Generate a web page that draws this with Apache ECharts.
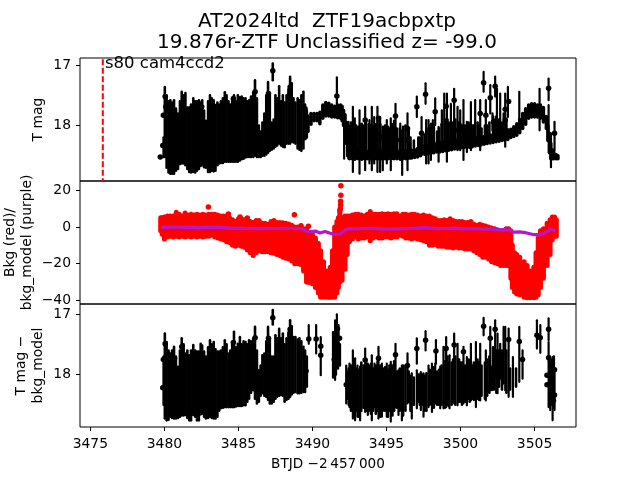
<!DOCTYPE html>
<html><head><meta charset="utf-8">
<style>html,body{margin:0;padding:0;background:#fff}#c{width:640px;height:480px}</style>
<script src="https://cdn.jsdelivr.net/npm/echarts@6/dist/echarts.min.js"></script>
</head><body><div id="c"></div>
<script>
const FONT='"DejaVu Sans"';
const xTicks=[3475,3480,3485,3490,3495,3500,3505];
const magTicks1=[17,18];
const bkgTicks=[-40,-20,0,20];
const magTicks3=[17,18];

// shared times of the dense early stretch
const tLeft=[
3479.95,3480.03,3480.15,3480.28,3480.4,3480.52,3480.65,3480.78,3480.92,3481.05,
3481.17,3481.3,3481.42,3481.55,3481.68,3481.8,3481.95,3482.08,3482.2,3482.33,
3482.45,3482.55,3482.68,3482.8,3482.95,3483.08,3483.2,3483.33,3483.45,3483.58,
3483.7,3483.82,3483.95,3484.08,3484.2,3484.33,3484.45,3484.58,3484.7,3484.83,
3484.96,3485.1,3485.22,3485.35,3485.48,3485.6,3485.72,3485.85,3486.0,3486.12,
3486.25,3486.38,3486.5,3486.62,3486.75,3486.88,3487.0,3487.12,3487.25,3487.32,
3487.38,3487.5,3487.62,3487.75,3487.88,3488.0,3488.12,3488.25,3488.38,3488.49,
3488.6,3488.72,3488.85,3489.0,3489.12,3489.25,3489.39,3489.5,3489.62];
const top1Left=[
18.2,17.36,17.5,17.6,17.58,17.62,17.58,17.72,17.8,17.6,
17.44,17.5,17.46,17.7,17.75,17.65,17.55,17.6,17.6,17.58,
17.62,17.58,17.75,17.92,17.6,17.5,17.55,17.58,17.66,17.62,
17.65,17.6,17.55,17.45,17.5,17.6,17.65,17.55,17.5,17.6,
17.5,17.53,17.52,17.55,17.55,17.6,17.58,17.52,17.45,17.25,
17.55,18.0,18.1,17.95,17.8,17.5,17.28,17.5,17.95,16.97,
17.9,17.5,17.55,17.35,17.6,17.5,17.62,17.5,17.4,17.19,
17.3,17.55,17.62,17.55,17.58,17.5,17.44,17.65,17.75];
const bot1Left=[
18.52,18.52,18.7,18.78,18.8,18.8,18.8,18.75,18.72,18.64,
18.63,18.63,18.66,18.72,18.77,18.78,18.77,18.78,18.75,18.72,
18.67,18.66,18.69,18.7,18.77,18.77,18.75,18.76,18.75,18.66,
18.63,18.62,18.62,18.6,18.6,18.6,18.6,18.6,18.6,18.6,
18.6,18.58,18.56,18.55,18.53,18.52,18.52,18.52,18.52,18.5,
18.52,18.52,18.52,18.5,18.5,18.48,18.45,18.42,18.4,17.25,
18.38,18.35,18.33,18.3,18.33,18.35,18.36,18.3,18.3,18.3,
18.27,18.28,18.3,18.38,18.4,18.42,18.38,18.22,18.2];

const tRight1=[
3491.65,3492.14,3492.43,3492.73,3492.86,3493.18,3493.34,3493.56,3493.85,3494.01,
3494.17,3494.39,3494.57,3494.75,3495.02,3495.29,3495.61,3495.93,3496.06,3496.42,
3496.6,3497.05,3497.37,3497.64,3497.68,3497.84,3498.0,3498.13,3498.29,3498.52,
3498.74,3498.9,3499.08,3499.35,3499.57,3499.8,3499.98,3500.2,3500.43,3500.7,
3500.99,3501.33,3501.56,3501.71,3502.01,3502.16,3502.34,3502.46,3502.68,3502.91,
3503.02,3503.2,3503.97,3505.34,3505.95,3505.95,3506.11,3506.35];
const top1Right=[
17.2,17.86,17.94,17.69,17.88,17.75,17.97,17.69,17.91,17.69,
17.86,17.69,17.86,18.08,17.91,17.88,17.64,17.97,18.08,17.8,
18.3,17.52,17.86,17.3,17.91,17.91,17.97,17.91,17.55,18.02,
17.75,17.47,17.47,17.64,17.39,17.69,17.75,17.58,17.94,17.61,
17.58,17.58,17.11,17.58,17.33,17.8,17.19,17.39,17.47,17.8,
17.47,17.36,17.44,17.39,17.22,17.66,18.13,17.94];
const bot1Right=[
17.72,18.55,18.55,18.77,18.57,18.8,18.57,18.74,18.63,18.74,
18.63,18.77,18.77,18.74,18.63,18.74,18.52,18.57,18.82,18.74,
18.55,17.86,18.3,17.64,18.63,18.63,18.57,18.46,17.99,18.6,
18.41,18.3,18.6,18.3,18.35,18.41,18.41,18.57,18.44,18.41,
18.3,18.41,17.44,18.19,17.8,18.08,17.52,18.19,18.24,18.24,
18.35,17.86,18.02,18.08,17.58,18.13,18.69,18.41];

// shorter error bars packed between the long ones
const tFill1=[
3492.35,3492.45,3492.6,3492.8,3492.95,3493.1,3493.3,3493.45,3493.62,3493.8,
3493.95,3494.1,3494.28,3494.4,3494.58,3494.75,3494.9,3495.1,3495.2,3495.4,
3495.52,3495.7,3495.9,3496.12,3496.28,3496.5,3496.62,3496.85,3497.15,3497.25,
3497.42,3497.58,3497.7,3497.92,3498.15,3498.2,3498.42,3498.55,3498.72,3498.95,
3499.12,3499.2,3499.4,3499.5,3499.65,3499.9,3500.0,3500.1,3500.3,3500.55,
3500.62,3500.8,3500.9,3501.15,3501.25,3501.42,3501.65,3501.8,3501.95,3502.2,
3502.25,3502.42,3502.6,3502.8,3503.1,3503.35,3503.75];
const topFill1=[
18.05,18.0,17.95,17.95,18.0,18.02,17.98,18.0,17.92,17.98,
18.0,18.02,17.98,17.9,17.98,18.02,18.0,18.02,18.05,17.98,
17.92,18.05,18.05,18.02,18.0,18.05,18.2,18.25,18.2,18.2,
18.15,18.15,18.05,18.0,18.02,18.0,18.1,18.05,17.98,17.9,
17.9,17.95,18.0,17.95,17.9,17.95,17.98,18.0,18.0,17.95,
18.0,18.0,18.0,17.95,18.0,18.05,18.0,18.0,17.95,17.85,
17.9,17.85,17.9,17.95,17.9,18.1,18.05];
const botFill1=[
18.5,18.52,18.55,18.55,18.54,18.55,18.54,18.55,18.55,18.54,
18.55,18.54,18.55,18.55,18.55,18.54,18.55,18.55,18.54,18.55,
18.54,18.55,18.55,18.55,18.54,18.54,18.53,18.52,18.5,18.5,
18.48,18.47,18.46,18.45,18.44,18.44,18.42,18.42,18.41,18.4,
18.4,18.39,18.38,18.38,18.37,18.36,18.36,18.36,18.34,18.33,
18.33,18.32,18.32,18.3,18.3,18.29,18.28,18.27,18.27,18.25,
18.25,18.24,18.23,18.22,18.2,18.18,18.14];

const tBand=[
3489.5,3489.7,3489.9,3490.1,3490.3,3490.5,3490.7,3490.9,3491.1,3491.3,
3491.5,3491.7,3491.9,3492.0,3492.1,3492.2,3492.3,3492.4,3492.5,3492.7,
3492.9,3493.1,3493.3,3493.5,3493.7,3493.9,3494.1,3494.3,3494.5,3494.7,
3494.9,3495.1,3495.3,3495.5,3495.7,3495.9,3496.1,3496.3,3496.5,3496.7,
3496.9,3497.1,3497.3,3497.6,3497.8,3498.0,3498.2,3498.4,3498.6,3498.8,
3499.0,3499.2,3499.4,3499.6,3499.8,3500.0,3500.2,3500.4,3500.6,3500.8,
3501.0,3501.2,3501.4,3501.6,3501.8,3502.0,3502.2,3502.4,3502.6,3502.8,
3503.0,3503.2,3503.4,3503.6,3503.8,3504.0,3504.2,3504.4,3504.6,3504.8,
3505.0,3505.2,3505.4,3505.6,3505.8,3505.9,3506.0,3506.1,3506.2,3506.3,
3506.45,3506.58];
const topBand=[
17.86,17.84,17.80,17.80,17.80,17.78,17.66,17.62,17.63,17.66,
17.68,17.66,17.66,17.68,17.75,17.82,17.95,18.10,18.30,18.40,
18.42,18.42,18.43,18.42,18.43,18.42,18.43,18.42,18.43,18.42,
18.43,18.42,18.43,18.42,18.43,18.42,18.42,18.42,18.41,18.41,
18.40,18.38,18.36,18.33,18.32,18.31,18.30,18.29,18.28,18.27,
18.26,18.26,18.25,18.25,18.24,18.24,18.23,18.22,18.22,18.21,
18.20,18.19,18.19,18.18,18.17,18.16,18.15,18.14,18.12,18.10,
18.08,18.07,18.06,18.02,17.97,17.90,17.80,17.72,17.66,17.64,
17.64,17.66,17.66,17.70,17.85,18.00,18.13,18.30,18.40,18.44,
18.48,18.50];
const botBand=[
18.22,18.10,17.98,17.92,17.92,17.97,17.88,17.84,17.84,17.86,
17.86,17.87,17.88,17.92,18.00,18.10,18.30,18.50,18.55,18.55,
18.55,18.55,18.55,18.55,18.55,18.55,18.55,18.55,18.55,18.55,
18.55,18.55,18.55,18.55,18.55,18.55,18.55,18.55,18.54,18.54,
18.53,18.52,18.50,18.48,18.47,18.46,18.45,18.44,18.44,18.43,
18.42,18.41,18.40,18.39,18.38,18.37,18.37,18.36,18.36,18.35,
18.34,18.33,18.32,18.31,18.30,18.29,18.28,18.27,18.26,18.25,
18.24,18.23,18.20,18.18,18.16,18.12,18.05,17.98,17.88,17.86,
17.86,17.86,17.88,17.94,18.05,18.25,18.45,18.55,18.55,18.55,
18.55,18.55];

const tDots1=[
3479.72,3479.89,3479.93,3480.05,3480.09,3480.27,3480.32,3480.68,3481.17,3481.73,
3482.52,3483.2,3484.66,3486.13,3487.03,3487.32,3488.49,3488.49,3489.5,3491.65,
3493.34,3493.56,3494.01,3494.46,3494.8,3495.14,3495.61,3495.52,3495.93,3496.42,
3496.42,3497.05,3497.37,3497.64,3498.29,3499.03,3499.57,3499.8,3501.56,3502.01,
3502.34,3503.02,3503.02,3503.25,3505.95,3506.35,3501.33,3501.71,3502.23];
const magDots1=[
18.52,18.33,17.83,17.52,17.69,17.69,17.84,17.76,17.64,17.72,
17.69,17.61,17.55,17.44,17.47,17.09,17.36,17.47,17.72,17.51,
18.27,17.91,18.1,17.88,18.19,18.27,17.84,18.13,18.24,18.05,
18.24,17.69,18.13,17.48,17.77,17.68,17.58,18.08,17.29,17.54,
17.35,17.73,17.91,17.6,17.38,18.13,17.8,17.83,17.94];

const tMarker=[3475.84,3475.84];
const magMarker=[16.9,18.92];

// background (red) span per time step
const tBkg=[
3479.75,3479.85,3480.0,3480.2,3480.4,3480.6,3480.8,3481.0,3481.2,3481.4,
3481.6,3481.8,3482.0,3482.2,3482.4,3482.6,3482.8,3483.0,3483.2,3483.4,
3483.6,3483.8,3484.0,3484.2,3484.4,3484.6,3484.8,3485.0,3485.2,3485.4,
3485.6,3485.8,3486.0,3486.2,3486.4,3486.6,3486.8,3487.0,3487.2,3487.4,
3487.6,3487.8,3488.0,3488.2,3488.4,3488.6,3488.8,3489.0,3489.2,3489.4,
3489.6,3489.8,3490.0,3490.2,3490.4,3490.55,3490.75,3490.95,3491.1,3491.2,
3491.35,3491.5,3491.65,3491.75,3491.85,3492.0,3492.2,3492.35,3492.5,3492.7,
3492.9,3493.1,3493.3,3493.5,3493.7,3493.9,3494.1,3494.3,3494.5,3494.7,
3494.9,3495.1,3495.3,3495.5,3495.7,3495.9,3496.1,3496.3,3496.5,3496.7,
3496.9,3497.1,3497.3,3497.5,3497.7,3497.9,3498.1,3498.3,3498.5,3498.7,
3498.9,3499.1,3499.3,3499.5,3499.7,3499.9,3500.1,3500.3,3500.5,3500.7,
3500.9,3501.1,3501.3,3501.5,3501.7,3501.9,3502.1,3502.3,3502.5,3502.7,
3502.9,3503.1,3503.25,3503.4,3503.5,3503.65,3503.8,3504.0,3504.3,3504.5,
3504.7,3504.95,3505.1,3505.25,3505.4,3505.6,3505.85,3506.05,3506.2,3506.35,
3506.47];
const bkgHigh=[
5,5,5.5,6,6,6,8,7,6,7.7,
6.5,7,6.5,7,6.5,7,6.5,7,7,7,
6.5,6,6,6,5,4,3,4.5,4.5,4,
4.5,3,2.5,3.5,3.5,2,2,1.5,3,3.5,
2.5,2.5,2.3,2,1.7,1,0,0,-0.1,-1,
-1,-3,-4,-6,-9,-13,-19,-24,-25,-22,
-13,0,3,5,8,5,6,6,6,6.5,
7,7,6.5,6,7,8.5,7,7,7,7.2,
7,7.2,7,7.2,7.2,6,7,7,6.5,7,
7,6.5,6,6.5,6,6,5,4.5,3.5,3.5,
4,3.5,4.5,3.5,3,3,3,2.5,2.5,3,
1.5,1,1.5,1,0.5,0,-0.5,-1,-1.5,-2,
-2,-1.5,-1,-2,-10,-14,-15,-16.5,-19,-21,
-24,-22,-14,-6,-2,-1,2,4,5.5,5.5,
4];
const bkgLow=[
-2,-4,-6.5,-5.5,-5,-5.5,-5,-5.5,-5,-5.5,
-5,-5.5,-5,-5.5,-5,-5.5,-5,-5,-4.5,-5.5,
-6,-6.5,-7,-8,-8.5,-10,-10.5,-10,-10.5,-11,
-12.5,-14,-15.5,-14,-13,-13.5,-13.5,-13.5,-14,-14.3,
-15,-15.5,-16.5,-17,-17.4,-18.5,-20,-20.1,-20.5,-24,
-30,-30.1,-31,-33,-36,-38.3,-38.3,-38.3,-38.3,-38.3,
-38.3,-38.3,-36,-33,-30,-29,-23,-15,-8,-6.5,
-5.5,-6.5,-6,-6,-5.5,-7.5,-6,-5.5,-6,-6,
-5.5,-5.5,-6,-5.5,-5.5,-4.5,-5,-6,-6,-6.5,
-6,-6.5,-7,-7.5,-8,-10,-10,-9.5,-10.5,-10.5,
-10.5,-11,-11,-11.5,-11,-11.5,-11.5,-12,-12,-12,
-13,-14,-15,-16.5,-16.5,-17.5,-19,-19.5,-20,-21,
-21,-21,-21,-28,-33,-35.5,-36.5,-37,-38.3,-38.6,
-38.6,-38.6,-38.3,-37,-33,-28,-21,-15,-7,-5,
-5];
const tBkgDots=[3491.92,3491.92,3491.9,3491.9,3491.88,3491.85,3482.97,3484.32,3485.11,3485.6,3488.78,3489.73,3489.23,3489.73,3503.09];
const bkgDots=[22.5,17.3,14,12,10,9,10.9,7.1,5.5,4.9,6.7,0.4,0.7,-30,-1.1];

const tModel=[
3479.8,3480.3,3480.8,3481.3,3481.8,3482.3,3482.8,3483.3,3483.8,3484.2,
3484.6,3485.1,3485.6,3486.1,3486.6,3487.1,3487.6,3488.1,3488.6,3489.1,
3489.4,3489.6,3489.9,3490.2,3490.5,3490.85,3491.2,3491.55,3491.9,3492.2,
3492.4,3492.9,3493.5,3494.0,3494.6,3495.2,3495.8,3496.4,3497.0,3497.7,
3498.4,3499.0,3499.6,3500.2,3500.8,3501.4,3502.0,3502.6,3503.2,3503.6,
3504.0,3504.4,3504.9,3505.3,3505.7,3506.1,3506.4];
const modelVals=[
-0.2,-0.1,0,-0.2,-0.1,-0.3,-0.2,-0.1,-0.2,-0.5,
-0.7,-0.6,-0.8,-0.7,-0.9,-0.8,-0.8,-0.7,-0.8,-0.8,
-1.2,-2.4,-2.5,-2.2,-3.3,-2.4,-3.4,-4.0,-3.8,-1.6,
-0.9,-1.0,-0.8,-0.7,-1.0,-1.0,-1.0,-0.8,-0.6,-0.3,
-0.9,-0.8,-0.6,-1.0,-0.9,-1.0,-1.1,-1.6,-1.4,-2.8,
-2.7,-3.1,-4.1,-4.2,-3.2,-1.2,-2.0];

const top3Left=[
17.7,17.32,17.46,17.6,17.65,17.6,17.54,17.7,17.87,17.6,
17.4,17.5,17.65,17.6,17.68,17.6,17.51,17.6,17.62,17.62,
17.49,17.52,17.62,17.7,17.55,17.43,17.5,17.46,17.58,17.62,
17.62,17.6,17.55,17.43,17.5,17.65,17.6,17.5,17.29,17.55,
17.49,17.38,17.5,17.45,17.46,17.5,17.43,17.45,17.4,17.21,
17.6,17.93,17.85,17.68,17.65,17.45,17.21,17.4,17.7,16.93,
17.7,17.35,17.4,17.24,17.4,17.32,17.5,17.4,17.3,17.1,
17.2,17.38,17.38,17.42,17.4,17.45,17.54,17.6,17.7];
const bot3Left=[
18.5,18.73,18.76,18.75,18.7,18.72,18.73,18.73,18.72,18.7,
18.68,18.68,18.67,18.72,18.76,18.76,18.67,18.7,18.76,18.76,
18.66,18.65,18.7,18.73,18.72,18.7,18.72,18.73,18.73,18.7,
18.6,18.56,18.55,18.54,18.54,18.54,18.54,18.54,18.54,18.53,
18.52,18.52,18.52,18.51,18.51,18.45,18.4,18.3,18.26,18.4,
18.48,18.45,18.35,18.31,18.35,18.37,18.42,18.48,18.48,17.17,
18.45,18.4,18.37,18.35,18.34,18.35,18.45,18.42,18.4,18.37,
18.33,18.3,18.29,18.31,18.31,18.3,18.29,18.29,18.2];

const tRight3=[
3489.75,3490.25,3490.56,3491.53,3491.65,3491.76,3492.28,3492.5,3492.73,3492.88,
3493.04,3493.22,3493.56,3493.74,3494.01,3494.19,3494.46,3494.69,3495.02,3495.29,
3495.61,3495.81,3496.04,3496.42,3496.71,3497.05,3497.05,3497.32,3497.64,3497.5,
3497.84,3498.07,3498.34,3498.29,3498.63,3498.85,3499.03,3499.26,3499.57,3499.8,
3500.2,3500.43,3500.7,3501.04,3501.33,3501.56,3501.71,3502.01,3502.12,3502.34,
3502.5,3502.68,3502.91,3503.02,3503.25,3503.54,3503.97,3504.19,3505.16,3505.39,
3505.95,3505.95,3506.06,3506.22,3506.35];
const top3Right=[
17.18,17.18,17.38,17.1,17,17.18,17.85,17.82,17.6,17.73,
17.85,17.87,17.57,17.82,17.68,17.82,17.54,17.82,17.82,17.79,
17.49,17.93,17.85,17.65,17.98,17.4,17.93,17.96,17.28,17.98,
17.85,17.82,17.43,17.82,17.87,17.54,17.38,17.68,17.32,17.49,
17.54,17.71,17.49,17.46,17.49,17.06,17.6,17.21,17.87,17.1,
17.32,17.49,17.21,17.21,17.24,17.71,17.21,17.6,17.1,17.18,
17.07,17.46,17.82,17.71,17.9];
const bot3Right=[
17.49,17.65,18.01,18.09,17.71,17.65,18.48,18.54,18.73,18.76,
18.7,18.76,18.62,18.67,18.76,18.54,18.73,18.7,18.7,18.78,
18.54,18.67,18.76,18.48,18.73,17.82,18.56,18.59,17.6,18.7,
18.54,18.62,17.82,18.48,18.56,18.56,18.54,18.56,18.48,18.51,
18.48,18.51,18.43,18.54,18.43,17.35,18.43,18.26,18.26,18.04,
18.31,18.07,18.15,18.26,18.37,18.37,18.12,18.07,17.57,17.64,
17.43,18.54,18.59,18.76,18.59];

const tFill3=[
3492.35,3492.45,3492.6,3492.8,3492.95,3493.1,3493.3,3493.45,3493.62,3493.8,
3493.95,3494.1,3494.28,3494.4,3494.58,3494.75,3494.9,3495.1,3495.2,3495.4,
3495.52,3495.7,3495.9,3496.12,3496.28,3496.5,3496.62,3496.85,3497.15,3497.25,
3497.42,3497.58,3497.7,3497.92,3498.15,3498.2,3498.42,3498.55,3498.72,3498.95,
3499.12,3499.2,3499.4,3499.5,3499.65,3499.9,3500.0,3500.1,3500.3,3500.55,
3500.62,3500.8,3500.9,3501.15,3501.25,3501.42,3501.65,3501.8,3501.95,3502.2,
3502.25,3502.42,3502.6,3502.8,3503.1,3503.35,3503.75,
3506.0,3506.15,3506.3,3491.4,3491.58,3491.72,3491.85];
const topFill3=[
17.95,17.9,17.85,17.78,17.9,17.92,17.8,17.85,17.75,17.85,
17.82,17.9,17.85,17.78,17.85,17.9,17.88,17.92,17.85,17.85,
17.78,17.95,17.9,17.85,17.85,17.95,18.02,18.05,18.0,18.0,
18.0,18.02,17.98,17.92,17.88,17.9,17.95,17.92,17.85,17.78,
17.7,17.8,17.8,17.75,17.7,17.75,17.8,17.8,17.85,17.75,
17.8,17.85,17.8,17.75,17.8,17.85,17.8,17.75,17.7,17.55,
17.6,17.6,17.6,17.6,17.6,17.9,17.9,
17.7,17.75,17.7,17.3,17.2,17.3,17.5];
const botFill3=[
18.4,18.5,18.6,18.7,18.6,18.7,18.6,18.55,18.6,18.6,
18.65,18.6,18.65,18.6,18.7,18.6,18.6,18.7,18.6,18.68,
18.6,18.55,18.6,18.68,18.6,18.45,18.6,18.5,18.45,18.5,
18.5,18.6,18.6,18.5,18.5,18.55,18.5,18.5,18.5,18.55,
18.5,18.52,18.5,18.45,18.5,18.45,18.45,18.5,18.45,18.4,
18.45,18.4,18.42,18.4,18.42,18.35,18.4,18.35,18.3,18.2,
18.25,18.3,18.2,18.25,18.3,18.25,18.2,
18.5,18.5,18.55,18.05,18.0,17.9,17.85];

const tDots3=[
3487.32,3488.49,3488.49,3486.13,3487.03,3484.66,3483.2,3482.52,3480.68,3480.05,
3480.2,3481.17,3489.75,3490.25,3490.56,3490.56,3489.5,3489.57,3479.89,3479.93,
3491.69,3491.65,3491.83,3491.47,3492.28,3493.56,3494.46,3495.61,3496.42,3497.05,
3497.64,3498.34,3499.03,3499.57,3500.2,3501.56,3502.01,3502.34,3503.25,3503.97,
3504.19,3505.16,3505.39,3505.95,3505.95,3506.35,3505.84,3505.84,3506.35,3506.28];
const magDots3=[
17.06,17.25,17.35,17.39,17.4,17.47,17.6,17.66,17.73,17.49,
17.65,17.54,17.41,17.41,17.53,17.68,17.73,17.94,18.22,17.75,
17.24,17.49,17.4,17.75,18.17,17.76,17.73,17.67,17.85,17.57,
17.43,17.61,17.57,17.51,17.62,17.2,17.4,17.25,17.42,17.45,
17.75,17.35,17.39,17.25,17.72,17.92,18.01,18.17,18.34,18.43];

const zip=(...a)=>a[0].map((_,i)=>a.map(c=>c[i]));
const barRender=(w,color)=>(params,api)=>{
  const a=api.coord([api.value(0),api.value(1)]),b=api.coord([api.value(0),api.value(2)]);
  return {type:'line',silent:true,shape:{x1:a[0],y1:a[1],x2:b[0],y2:b[1]},
    style:{stroke:color,lineWidth:w,lineCap:'round',fill:null}};
};
const custom=(idx,data,w,color,z)=>({type:'custom',xAxisIndex:idx,yAxisIndex:idx,z:z||2,
  encode:{x:0,y:[1,2]},data,renderItem:barRender(w,color),animation:false,silent:true});
const dots=(idx,data,color,size,z)=>({type:'scatter',xAxisIndex:idx,yAxisIndex:idx,z:z||3,
  data,symbolSize:size,itemStyle:{color,opacity:1},animation:false,silent:true});

const LEFT=80,W=496,H=123,TOPS=[58,181,304];
const tickFmt=v=>String(v).replace('-','\u2212');
const xAxisCfg=(i,show)=>({type:'value',gridIndex:i,min:3474.3,max:3507.8,
  axisLine:{show:false},splitLine:{show:false},
  axisTick:{show:show,customValues:xTicks,length:4,lineStyle:{color:'#000',width:1}},
  axisLabel:{show:show,customValues:xTicks,color:'#000',fontFamily:FONT,fontSize:13.9,margin:10,formatter:tickFmt},
  name:show?'BTJD \u22122\u2009457\u2009000':'',nameLocation:'middle',nameGap:30,
  nameTextStyle:{color:'#000',fontFamily:FONT,fontSize:13.6}});
const yAxisCfg=(i,min,max,ticks,inverse,name,gap)=>({type:'value',gridIndex:i,min,max,inverse,
  axisLine:{show:false},splitLine:{show:false},
  axisTick:{show:true,customValues:ticks,length:4,lineStyle:{color:'#000',width:1}},
  axisLabel:{show:true,customValues:ticks,color:'#000',fontFamily:FONT,fontSize:13.9,margin:9,formatter:tickFmt},
  name,nameLocation:'middle',nameRotate:90,nameGap:gap,nameMoveOverlap:false,
  nameTextStyle:{color:'#000',fontFamily:FONT,fontSize:13.9,lineHeight:17}});

const chart=echarts.init(document.getElementById('c'),null,{renderer:'canvas'});
chart.setOption({
  animation:false,backgroundColor:'#fff',
  title:{text:'AT2024ltd  ZTF19acbpxtp\n19.876r-ZTF Unclassified z= -99.0',left:322,top:6,textAlign:'center',
    textStyle:{color:'#000',fontFamily:FONT,fontSize:20,fontWeight:'normal',lineHeight:21}},
  grid:TOPS.map(t=>({left:LEFT,width:W,top:t,height:H,show:true,borderColor:'#000',borderWidth:1,backgroundColor:'transparent',outerBoundsMode:'none'})),
  xAxis:[xAxisCfg(0,false),xAxisCfg(1,false),xAxisCfg(2,true)],
  yAxis:[
    yAxisCfg(0,16.88,18.92,magTicks1,true,'T mag',33),
    yAxisCfg(1,-42,25.1,bkgTicks,false,'Bkg (red)/\nbkg_model (purple)',44),
    yAxisCfg(2,16.83,18.87,magTicks3,true,'T mag \u2212\nbkg_model',33)],
  graphic:[{type:'text',left:105,top:55,z:10,style:{text:'s80 cam4ccd2',fill:'#000',font:'16.5px "DejaVu Sans"'}}],
  series:[
    custom(0,zip(tLeft,top1Left,bot1Left),2.6,'#000'),
    custom(0,zip(tRight1,top1Right,bot1Right),2.2,'#000'),
    custom(0,zip(tFill1,topFill1,botFill1),2.6,'#000'),
    custom(0,zip(tBand,topBand,botBand),3.5,'#000'),
    dots(0,zip(tDots1,magDots1),'#000',5.5),
    {type:'line',xAxisIndex:0,yAxisIndex:0,data:zip(tMarker,magMarker),showSymbol:false,animation:false,silent:true,
      lineStyle:{color:'#ff0000',width:2,type:[6,2.5]},z:4},
    custom(1,zip(tBkg,bkgHigh,bkgLow),5,'#ff0000'),
    dots(1,zip(tBkgDots,bkgDots),'#ff0000',5.5),
    {type:'line',xAxisIndex:1,yAxisIndex:1,data:zip(tModel,modelVals),showSymbol:false,animation:false,silent:true,
      lineStyle:{color:'#b816cc',width:3.2},z:5},
    custom(2,zip(tLeft,top3Left,bot3Left),2.6,'#000'),
    custom(2,zip(tRight3,top3Right,bot3Right),2.2,'#000'),
    custom(2,zip(tFill3,topFill3,botFill3),2.6,'#000'),
    dots(2,zip(tDots3,magDots3),'#000',5.5)
  ]
});
</script></body></html>
